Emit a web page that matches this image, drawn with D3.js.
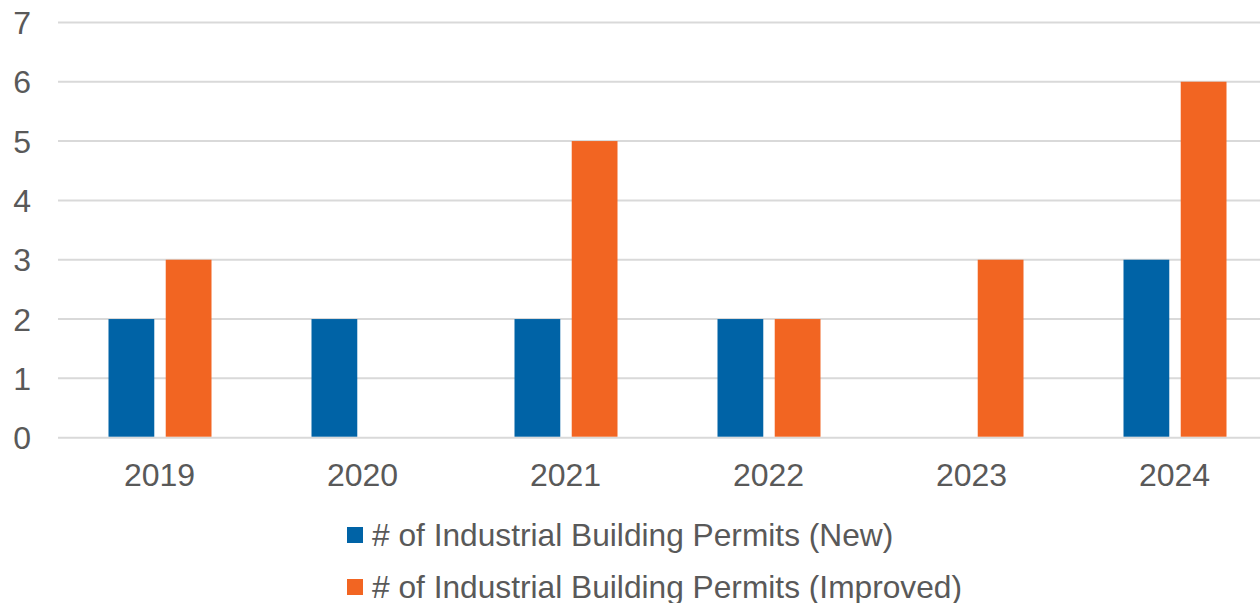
<!DOCTYPE html>
<html>
<head>
<meta charset="utf-8">
<script src="https://cdn.jsdelivr.net/npm/d3@7"></script>
<style>
  body { margin: 0; background: #fff; }
  svg { display: block; font-family: "Liberation Sans", Arial, sans-serif; }
</style>
</head>
<body>
<svg id="chart" width="1260" height="603"></svg>
<script>
// chart data
var years = ["2019", "2020", "2021", "2022", "2023", "2024"];
var seriesNames = ["# of Industrial Building Permits (New)", "# of Industrial Building Permits (Improved)"];
var newPermits = [2, 2, 2, 2, 0, 3];
var improvedPermits = [3, 0, 5, 2, 3, 6];
var yTicks = [0, 1, 2, 3, 4, 5, 6, 7];
var colors = ["#0063a6", "#f26522"];

var svg = d3.select("#chart");

var x = d3.scaleBand()
    .domain(years)
    .range([58, 1276]);

var x1 = d3.scaleBand()
    .domain(seriesNames)
    .range([-51, 52])
    .paddingInner(0.2);

var y = d3.scaleLinear()
    .domain([0, 7])
    .range([437.7, 22.4]);

// gridlines
svg.append("g")
    .selectAll("line")
    .data(yTicks)
    .join("line")
    .attr("x1", 58)
    .attr("x2", 1276)
    .attr("y1", function(d) { return y(d); })
    .attr("y2", function(d) { return y(d); })
    .attr("stroke", "#d9d9d9")
    .attr("stroke-width", 2);

// y labels
svg.append("g")
    .selectAll("text")
    .data(yTicks)
    .join("text")
    .attr("x", 31)
    .attr("y", function(d) { return y(d); })
    .attr("dy", "0.36em")
    .attr("text-anchor", "end")
    .attr("font-size", 32)
    .attr("fill", "#595959")
    .text(function(d) { return d; });

// bars
var rows = years.map(function(yr, i) {
    return [
        { year: yr, name: seriesNames[0], value: newPermits[i], color: colors[0] },
        { year: yr, name: seriesNames[1], value: improvedPermits[i], color: colors[1] }
    ];
});

svg.append("g")
    .selectAll("g")
    .data(rows)
    .join("g")
    .attr("transform", function(d) { return "translate(" + (x(d[0].year) + x.bandwidth() / 2) + ",0)"; })
    .selectAll("rect")
    .data(function(d) { return d.filter(function(p) { return p.value > 0; }); })
    .join("rect")
    .attr("x", function(d) { return x1(d.name); })
    .attr("width", x1.bandwidth())
    .attr("y", function(d) { return y(d.value); })
    .attr("height", function(d) { return y(0) - y(d.value) - 1; })
    .attr("fill", function(d) { return d.color; });

// x labels
svg.append("g")
    .selectAll("text")
    .data(years)
    .join("text")
    .attr("x", function(d) { return x(d) + x.bandwidth() / 2; })
    .attr("y", 486)
    .attr("text-anchor", "middle")
    .attr("font-size", 32)
    .attr("fill", "#595959")
    .text(function(d) { return d; });

// legend
var legend = svg.append("g")
    .selectAll("g")
    .data(seriesNames)
    .join("g")
    .attr("transform", function(d, i) { return "translate(347," + (527 + i * 52) + ")"; });

legend.append("rect")
    .attr("width", 16)
    .attr("height", 16)
    .attr("fill", function(d, i) { return colors[i]; });

legend.append("text")
    .attr("x", 25)
    .attr("y", 8)
    .attr("dy", "0.36em")
    .attr("font-size", 31.7)
    .attr("fill", "#595959")
    .text(function(d) { return d; });
</script>
</body>
</html>
